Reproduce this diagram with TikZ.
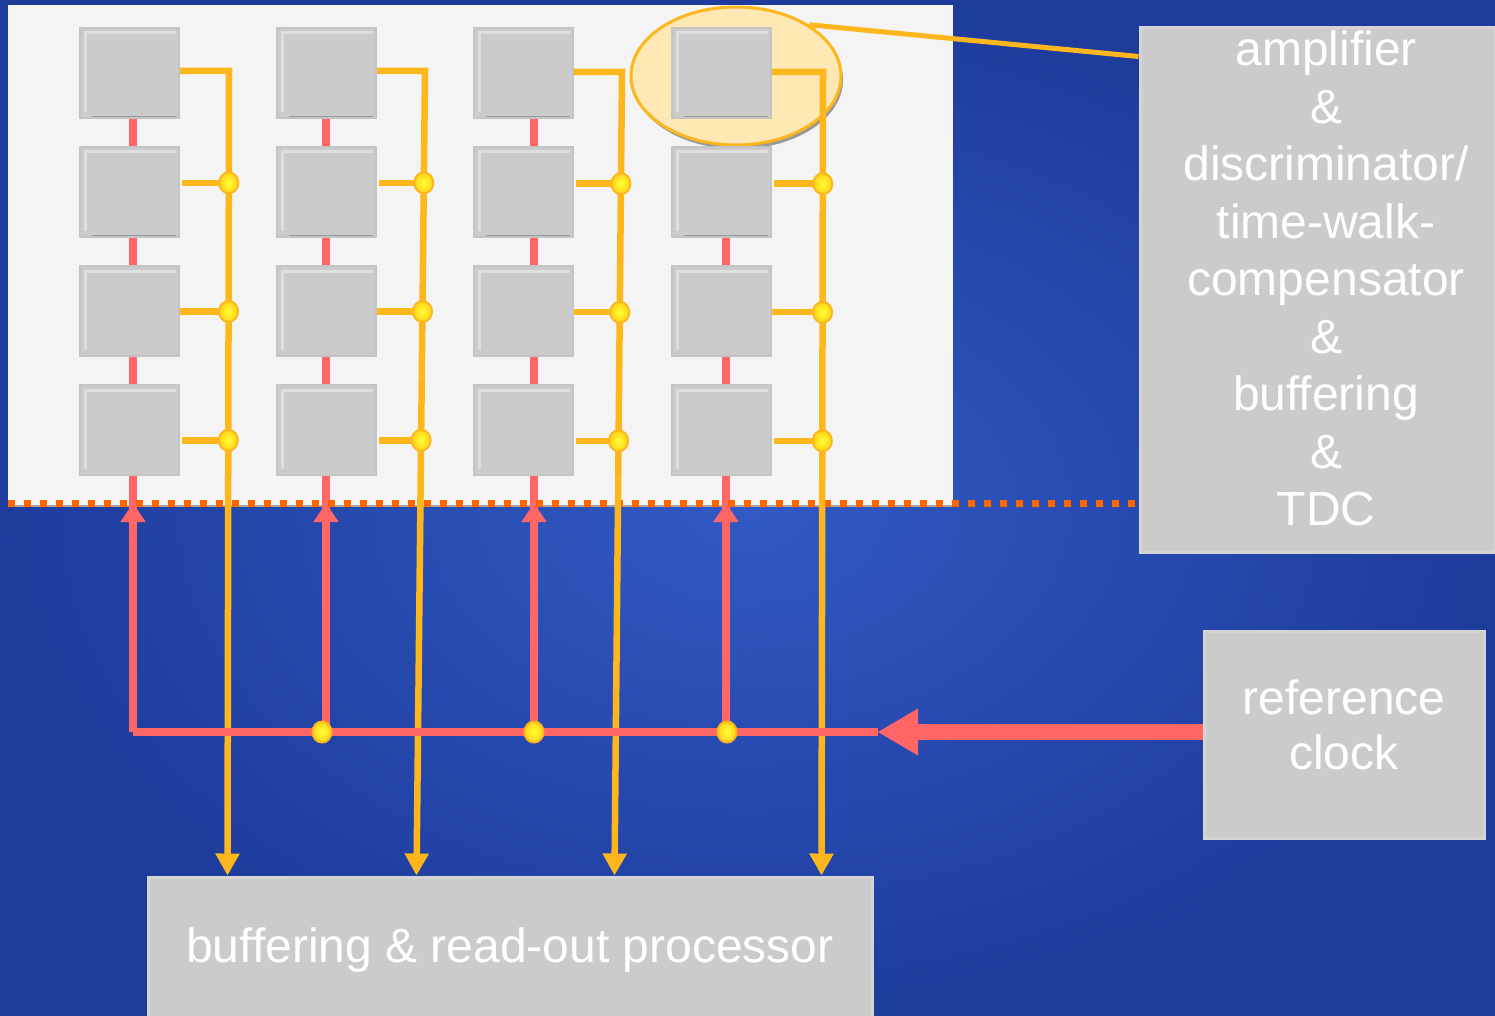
\documentclass[tikz,border=0pt]{standalone}
\usepackage{fontspec}
\setmainfont{Liberation Sans}
\usetikzlibrary{arrows.meta,shapes.geometric,calc}
\definecolor{bgin}{HTML}{3159C4}
\definecolor{bgout}{HTML}{1E3C9C}
\definecolor{panelc}{HTML}{F4F4F4}
\definecolor{cellgray}{HTML}{CBCBCB}
\definecolor{celledge}{HTML}{C4C4C4}
\definecolor{cellhi}{HTML}{DEDEDE}
\definecolor{boxedge}{HTML}{D4D4D4}
\definecolor{amber}{HTML}{FDB71C}
\definecolor{clockred}{HTML}{FF6666}
\definecolor{dotorange}{HTML}{FF6600}
\definecolor{hlfill}{HTML}{FFE8B4}
\definecolor{dotgold}{HTML}{FFD21A}
\begin{document}
\begin{tikzpicture}[x=1pt,y=-1pt,
  cell/.style={rectangle, minimum width=99pt, minimum height=90pt, inner sep=0pt,
    fill=cellgray, draw=celledge, line width=2pt,
    path picture={
      \draw[cellhi, line width=3pt]
        ([shift={(5pt,6pt)}]path picture bounding box.south west) --
        ([shift={(5pt,-5pt)}]path picture bounding box.north west) --
        ([shift={(-3pt,-5pt)}]path picture bounding box.north east);
      \draw[black!40, line width=3pt]
        ([xshift=12pt]path picture bounding box.south west) --
        ([xshift=-3pt]path picture bounding box.south east);}},
  gbox/.style={rectangle, inner sep=0pt, fill=cellgray, draw=boxedge, line width=3pt},
  lbl/.style={text=white, align=center, inner sep=0pt},
  sig/.style={draw=amber, line width=6.5pt},
  clk/.style={draw=clockred, line width=8pt},
  jn/.style={ellipse, minimum width=19pt, minimum height=21pt, inner sep=0pt,
    inner color=yellow!80!white, outer color=dotgold, draw=amber, line width=2pt},
  sigtip/.style={-{Triangle[length=22pt,width=23pt]}},
  clktip/.style={-{Triangle[length=19pt,width=24pt]}}
]
\useasboundingbox (0,0) rectangle (1495,1016);
\shade[inner color=bgin, outer color=bgout] (0,0) rectangle (1495,1016);

% panel
\node[rectangle, fill=panelc, inner sep=0pt, minimum width=945pt, minimum height=501pt] (pn) at (480.5,255.5) {};
\draw[black!35, line width=2pt] (pn.south west) -- (pn.south east);

% highlight ellipse
\fill[black!40] (738,80) ellipse [x radius=105, y radius=69];
\node[ellipse, minimum width=210pt, minimum height=138pt, fill=hlfill, draw=amber, line width=3pt] (hl) at (736,76) {};

% cells
\foreach \i/\x in {1/129.5,2/326.5,3/523.5,4/721.5}
  \foreach \j/\y in {1/73,2/192,3/311,4/430}
    \node[cell] (s\i\j) at (\x,\y) {};

% boxes
\node[gbox, minimum width=355pt, minimum height=524pt] (rb) at (1317.5,290) {};
\node[lbl, font=\fontsize{48}{57.5}\selectfont] (rbt) at (1326,278.5)
  {amplifier\\\&\\discriminator/\\time-walk-\\compensator\\\&\\buffering\\\&\\TDC};
\node[gbox, minimum width=280pt, minimum height=207pt] (ck) at (1344,734.5) {};
\node[lbl, font=\fontsize{48}{55}\selectfont] (ckt) at (1344,725) {reference\\clock};
\node[gbox, minimum width=724pt, minimum height=142pt] (bp) at (510,948) {};
\node[lbl, font=\fontsize{48}{57.5}\selectfont] (bpt) at (510,950) {buffering \& read-out processor};

% coordinates
\coordinate (dl) at (8,503);
\coordinate (r1) at (133,732);
\coordinate (r2) at (326,732);
\coordinate (r3) at (534,732);
\coordinate (r4) at (726,732);
\coordinate (tipc) at (878,732);

% red verticals
\foreach \i in {1,2,3}
  \draw[clk] (s\i1.south -| r\i) -- (s\i2.north -| r\i);
\foreach \i in {1,2,3,4}{
  \draw[clk] (s\i2.south -| r\i) -- (s\i3.north -| r\i);
  \draw[clk] (s\i3.south -| r\i) -- (s\i4.north -| r\i);
}
\draw[clk] (s14.south -| r1) -- (r1);
\draw[clk] (s24.south -| r2) -- (r2);
\draw[clk] (s34.south -| r3) -- (r3);
\draw[clk] (s44.south -| r4) -- (r4);
\foreach \i in {1,2,3,4}
  \draw[clk, clktip] (r\i) -- (r\i |- dl);

% dotted boundary
\draw[dotorange, line width=7pt, dash pattern=on 7pt off 9pt] (dl) -- (dl -| rb.west);

% amber signal lines
\coordinate (c1) at (229,71);
\coordinate (c2) at (425,71);
\coordinate (c3) at (622,72);
\coordinate (c4) at (823,72);
\coordinate (b1) at ($(bp.north west)+(81,0)$);
\coordinate (b2) at ($(bp.north west)+(270,0)$);
\coordinate (b3) at ($(bp.north west)+(468,0)$);
\coordinate (b4) at ($(bp.north west)+(675,0)$);
\foreach \i in {1,2,3,4}{
  \draw[sig, sigtip] (s\i1.east |- c\i) -- (c\i) -- (b\i);
  \coordinate (j\i2) at ($(c\i)!0.139!(b\i)$);
  \coordinate (j\i3) at ($(c\i)!0.299!(b\i)$);
  \coordinate (j\i4) at ($(c\i)!0.459!(b\i)$);
  \draw[sig] ($(s\i2.east |- j\i2)+(2,0)$) -- (j\i2);
  \draw[sig] (s\i3.east |- j\i3) -- (j\i3);
  \draw[sig] ($(s\i4.east |- j\i4)+(2,0)$) -- (j\i4);
}
\draw[sig, line width=5pt] (hl.35) -- ($(rb.north west)+(0,30)$);

% clock bus
\draw[clk] (r1) -- (tipc);
\draw[draw=clockred, line width=16pt, -{Triangle[length=40pt,width=47pt,line width=0pt]}] (ck.west |- tipc) -- (tipc);

% junction dots
\foreach \i in {1,2,3,4}
  \foreach \j in {2,3,4}
    \node[jn] (d\i\j) at (j\i\j) {};
\node[jn] (k2) at (322,732) {};
\node[jn] (k3) at (534,732) {};
\node[jn] (k4) at (727,732) {};
\end{tikzpicture}
\end{document}
